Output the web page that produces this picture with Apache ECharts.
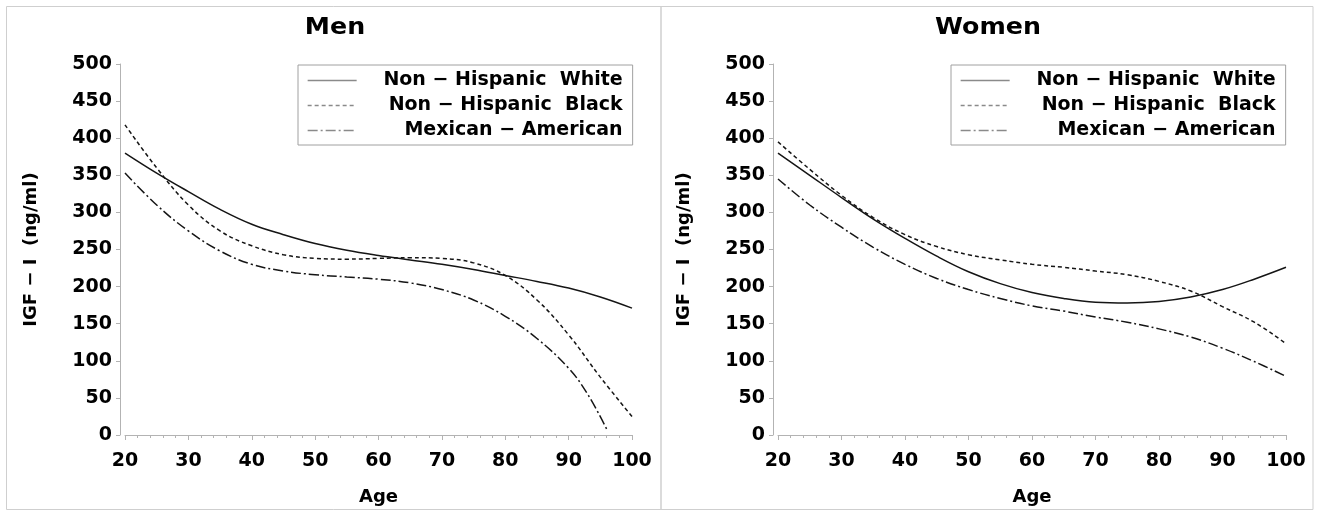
<!DOCTYPE html>
<html>
<head>
<meta charset="utf-8">
<script src="https://cdn.jsdelivr.net/npm/echarts@6/dist/echarts.min.js"></script>
<style>
html,body{margin:0;padding:0;background:#fff;}
#chart{width:1322px;height:512px;}
</style>
</head>
<body>
<div id="chart"></div>
<script>
// ---- data ----
var panelTitles = ['Men', 'Women'];
var seriesNames = ['Non − Hispanic  White', 'Non − Hispanic  Black', 'Mexican − American'];
var xTicks = [20, 30, 40, 50, 60, 70, 80, 90, 100];
var yTicks = [0, 50, 100, 150, 200, 250, 300, 350, 400, 450, 500];

var ages = [20, 25, 30, 35, 40, 45, 50, 55, 60, 65, 70, 75, 80, 85, 90, 95, 100];
var agesMenMex = [20, 25, 30, 35, 40, 45, 50, 55, 60, 65, 70, 75, 80, 85, 90, 93, 96];

var menWhite = [380, 353, 328, 304, 284, 270, 258, 249, 242, 236, 230, 223, 215, 207, 198, 186, 171];
var menBlack = [418, 360, 310, 275, 255, 243, 238, 237, 238, 239, 238, 232, 215, 182, 135, 78, 25];
var menMex   = [353, 310, 275, 248, 230, 221, 216, 213, 210, 205, 196, 182, 160, 130, 90, 55, 8];

var womenWhite = [380, 350, 320, 291, 265, 241, 220, 204, 192, 184, 179, 178, 180, 186, 196, 210, 226];
var womenBlack = [395, 358, 323, 293, 270, 254, 243, 236, 230, 226, 221, 216, 207, 194, 173, 152, 123];
var womenMex   = [345, 310, 280, 253, 230, 211, 196, 184, 174, 167, 159, 152, 143, 132, 117, 99, 79];

function pairs(xs, ys) { return xs.map(function (x, i) { return [x, ys[i]]; }); }

var FONT = '"DejaVu Sans", Verdana, sans-serif';
var lineColor = '#151515';
var axisColor = '#b3b3b3';
var dashTypes = ['solid', [4, 3], [10, 3, 2, 3]];

var chart = echarts.init(document.getElementById('chart'), null, {renderer: 'canvas'});

function makeX(idx) {
  return {
    type: 'value', gridIndex: idx, min: xTicks[0], max: xTicks[xTicks.length - 1], interval: 10,
    offset: 4,
    name: 'Age', nameLocation: 'middle', nameGap: 49,
    nameTextStyle: {fontFamily: FONT, fontWeight: 'bold', fontSize: 18, color: '#000'},
    axisLine: {show: true, lineStyle: {color: axisColor, width: 1}},
    axisTick: {show: true, length: 5, lineStyle: {color: axisColor}},
    minorTick: {show: true, splitNumber: 5, length: 3, lineStyle: {color: axisColor}},
    axisLabel: {margin: 13, fontFamily: FONT, fontWeight: 'bold', fontSize: 19, color: '#000'},
    splitLine: {show: false}
  };
}
function makeY(idx) {
  return {
    type: 'value', gridIndex: idx, min: yTicks[0], max: yTicks[yTicks.length - 1], interval: 50,
    offset: 5,
    name: 'IGF − I  (ng/ml)', nameLocation: 'middle', nameGap: 80, nameRotate: 90,
    nameTextStyle: {fontFamily: FONT, fontWeight: 'bold', fontSize: 18, color: '#000'},
    axisLine: {show: true, lineStyle: {color: axisColor, width: 1}},
    axisTick: {show: true, length: 4, lineStyle: {color: axisColor}},
    axisLabel: {margin: 8, fontFamily: FONT, fontWeight: 'bold', fontSize: 19, color: '#000'},
    splitLine: {show: false}
  };
}
function makeSeries(idx, name, data, dash) {
  return {
    type: 'line', name: name, xAxisIndex: idx, yAxisIndex: idx,
    data: data, smooth: 0.4, symbol: 'none', showSymbol: false,
    lineStyle: {color: lineColor, width: 1.5, type: dash},
    itemStyle: {color: lineColor},
    emphasis: {disabled: true}, animation: false
  };
}
function makeLegend(left) {
  return {
    orient: 'vertical', left: left, top: 65,
    data: seriesNames,
    borderColor: '#a0a0a0', borderWidth: 1,
    padding: [6, 10, 5, 9],
    itemWidth: 49, itemHeight: 12, itemGap: 6,
    selectedMode: false,
    itemStyle: {opacity: 0},
    lineStyle: {color: '#8a8a8a', width: 1.3},
    formatter: function (n) { return '{a|' + n + '}'; },
    textStyle: {
      rich: {a: {width: 261, align: 'right', fontFamily: FONT, fontWeight: 'bold', fontSize: 19, color: '#000', lineHeight: 22}}
    }
  };
}

var option = {
  backgroundColor: '#fff',
  animation: false,
  grid: [
    {left: 125, top: 64, width: 507, height: 371},
    {left: 778, top: 64, width: 508, height: 371}
  ],
  xAxis: [makeX(0), makeX(1)],
  yAxis: [makeY(0), makeY(1)],
  legend: [makeLegend(298), makeLegend(951)],
  series: [
    makeSeries(0, seriesNames[0], pairs(ages, menWhite), dashTypes[0]),
    makeSeries(0, seriesNames[1], pairs(ages, menBlack), dashTypes[1]),
    makeSeries(0, seriesNames[2], pairs(agesMenMex, menMex), dashTypes[2]),
    makeSeries(1, seriesNames[0], pairs(ages, womenWhite), dashTypes[0]),
    makeSeries(1, seriesNames[1], pairs(ages, womenBlack), dashTypes[1]),
    makeSeries(1, seriesNames[2], pairs(ages, womenMex), dashTypes[2])
  ],
  graphic: [
    {type: 'rect', shape: {x: 6.5, y: 6.5, width: 654.5, height: 503}, style: {fill: 'none', stroke: '#cfcfcf', lineWidth: 1}, silent: true},
    {type: 'rect', shape: {x: 661, y: 6.5, width: 652, height: 503}, style: {fill: 'none', stroke: '#cfcfcf', lineWidth: 1}, silent: true},
    {type: 'text', x: 335, y: 28, scaleX: 1.1, style: {text: panelTitles[0], textAlign: 'center', textVerticalAlign: 'middle', font: 'bold 23px ' + FONT, fill: '#000'}, silent: true},
    {type: 'text', x: 988, y: 28, scaleX: 1.1, style: {text: panelTitles[1], textAlign: 'center', textVerticalAlign: 'middle', font: 'bold 23px ' + FONT, fill: '#000'}, silent: true}
  ]
};
chart.setOption(option);
</script>
</body>
</html>
